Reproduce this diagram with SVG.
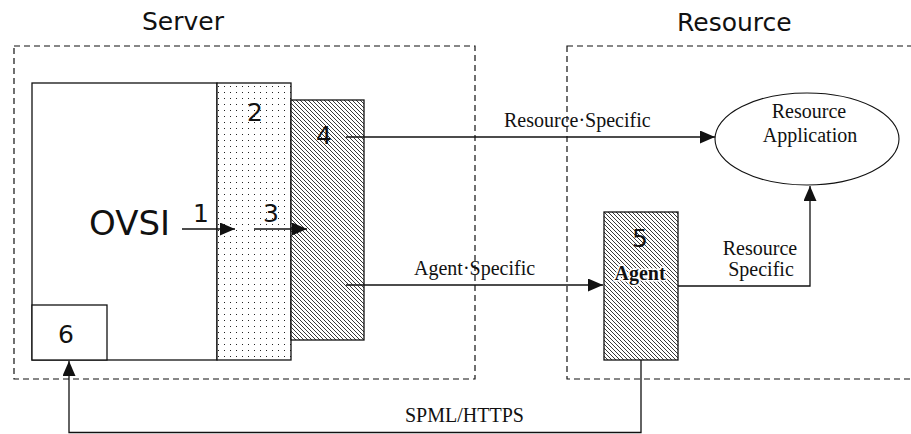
<svg xmlns="http://www.w3.org/2000/svg" width="911" height="434" viewBox="0 0 911 434">
<style>
.zone{fill:none;stroke:#111;stroke-width:1.2;stroke-dasharray:6 4}
.box{stroke:#111;stroke-width:1.3}
.ttl{font-family:"DejaVu Sans",Verdana,sans-serif;font-size:25px;fill:#111}
.num{font-family:"DejaVu Sans",Verdana,sans-serif;font-size:25px;fill:#111;text-anchor:middle}
.lbl{font-family:"Liberation Serif","Times New Roman",serif;font-size:20px;fill:#111}
.mid{text-anchor:middle}
.con{fill:none;stroke:#111;stroke-width:1.3}
</style>
<defs>
<pattern id="dots" patternUnits="userSpaceOnUse" width="6" height="6">
<rect width="6" height="6" fill="#fff"/>
<rect x="2" y="2" width="1" height="1" fill="#222"/>
</pattern>
<pattern id="hatch" patternUnits="userSpaceOnUse" width="4" height="4">
<rect width="4" height="4" fill="#fff"/>
<path d="M0,0 L4,4 M-1,3 L1,5 M3,-1 L5,1" stroke="#222" stroke-width="0.9"/>
</pattern>
<marker id="arr" markerUnits="userSpaceOnUse" viewBox="0 0 15 13" refX="15" refY="6.5" markerWidth="15" markerHeight="13" orient="auto">
<path d="M0,0 L15,6.5 L0,13 z" fill="#111"/>
</marker>
</defs>
<rect width="911" height="434" fill="#fff"/>

<g id="server-zone">
<rect class="zone" x="14" y="46" width="461" height="333"/>
<text class="ttl" x="142" y="30">Server</text>
</g>
<g id="resource-zone">
<rect class="zone" x="567" y="46" width="360" height="333"/>
<text class="ttl" x="677" y="31">Resource</text>
</g>

<g id="ovsi">
<rect class="box" x="32" y="83" width="185" height="277" fill="#fff"/>
<text class="ttl" x="89" y="235" style="font-size:34px">OVSI</text>
</g>
<g id="node2">
<rect class="box" x="217" y="83" width="74" height="277" fill="url(#dots)"/>
<text class="num" x="255" y="121">2</text>
</g>
<g id="node4">
<rect class="box" x="291" y="100" width="73" height="240" fill="url(#hatch)"/>
<text class="num" x="324" y="144">4</text>
</g>
<g id="node6">
<rect class="box" x="32" y="305" width="75" height="55" fill="#fff"/>
<text class="num" x="66" y="343">6</text>
</g>
<g id="agent">
<rect class="box" x="604" y="212" width="74" height="148" fill="url(#hatch)"/>
<text class="num" x="640" y="247">5</text>
<text class="lbl mid" x="640" y="280" style="font-weight:bold" stroke="#fff" stroke-width="3" paint-order="stroke">Agent</text>
</g>
<g id="resource-app">
<ellipse cx="807" cy="139" rx="92" ry="46" fill="#fff" stroke="#111" stroke-width="1.1"/>
<text class="lbl mid" x="809" y="118">Resource</text>
<text class="lbl mid" x="810" y="142">Application</text>
</g>

<g id="connectors">
<line class="con" x1="182" y1="229" x2="235" y2="229" marker-end="url(#arr)"/>
<text class="num" x="201" y="222">1</text>
<line class="con" x1="254" y1="229" x2="307" y2="229" marker-end="url(#arr)"/>
<text class="num" x="271" y="222">3</text>
<line class="con" x1="346" y1="137" x2="715" y2="137" marker-end="url(#arr)"/>
<text class="lbl" x="504" y="127">Resource·Specific</text>
<line class="con" x1="346" y1="285" x2="603" y2="285" marker-end="url(#arr)"/>
<text class="lbl" x="414" y="275">Agent·Specific</text>
<polyline class="con" points="678,286 810,286 810,186" marker-end="url(#arr)"/>
<text class="lbl mid" x="760" y="255">Resource</text>
<text class="lbl mid" x="761" y="276">Specific</text>
<polyline class="con" points="641,360 641,432.5 69,432.5 69,361" marker-end="url(#arr)"/>
<text class="lbl" x="405" y="422">SPML/HTTPS</text>
</g>
</svg>
